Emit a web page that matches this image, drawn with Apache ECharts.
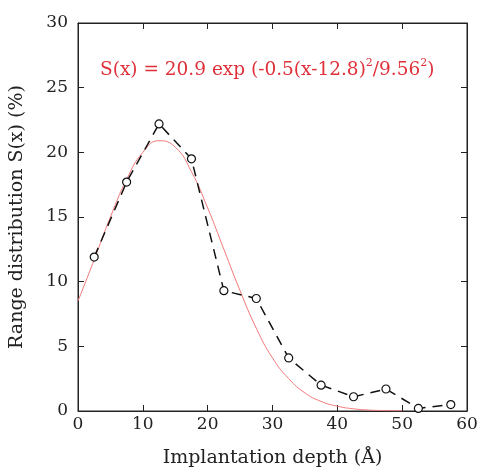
<!DOCTYPE html>
<html><head><meta charset="utf-8">
<script src="https://cdn.jsdelivr.net/npm/echarts@6/dist/echarts.min.js"></script>
<style>html,body{margin:0;padding:0;background:#fff}#c{width:478px;height:468px}</style>
</head><body><div id="c"></div>
<script>
// Measured data (depth in Å, range distribution in %)
const depth = [2.5, 7.5, 12.5, 17.5, 22.5, 27.5, 32.5, 37.5, 42.5, 47.5, 52.5, 57.5];
const rangeDist = [11.9, 17.7, 22.2, 19.5, 9.3, 8.7, 4.1, 2.0, 1.1, 1.7, 0.2, 0.5];
// Fitted curve
const fitX = [0, 2.5, 5, 7.5, 10, 12.5, 15, 17.5, 20, 22.5, 25, 27.5, 30, 32.5, 35, 37.5, 40, 42.5, 45, 47.5, 50];
const fitY = [8.5, 11.7, 15.0, 17.9, 20.0, 20.9, 20.4, 18.5, 15.7, 12.5, 9.3, 6.4, 4.1, 2.5, 1.4, 0.74, 0.37, 0.17, 0.07, 0.03, 0.01];
const xTicks = [0, 10, 20, 30, 40, 50, 60];
const yTicks = [0, 5, 10, 15, 20, 25, 30];

const FONT = 'DejaVu Serif';
const chart = echarts.init(document.getElementById('c'));
const axLine = {show: true, onZero: false, lineStyle: {color: '#222', width: 1}};
const tick = {show: true, inside: true, length: 6, lineStyle: {color: '#222', width: 1}};
chart.setOption({
  animation: false,
  backgroundColor: '#fff',
  grid: {left: 78, right: 11, top: 23, bottom: 57, containLabel: false, outerBoundsMode: 'none',
         show: true, borderColor: '#222', borderWidth: 1, backgroundColor: 'transparent'},
  xAxis: [{
    type: 'value', min: 0, max: 60, interval: 10,
    axisLine: axLine, axisTick: tick, splitLine: {show: false},
    axisLabel: {fontFamily: FONT, fontSize: 17, color: '#222', margin: 5},
    name: 'Implantation depth (Å)', nameLocation: 'middle', nameGap: 38,
    nameTextStyle: {fontFamily: FONT, fontSize: 19, color: '#222'}
  }, {
    type: 'value', min: 0, max: 60, interval: 10, position: 'top', show: true,
    axisLine: axLine, axisTick: tick, axisLabel: {show: false}, splitLine: {show: false}
  }],
  yAxis: [{
    type: 'value', min: 0, max: 30, interval: 5,
    axisLine: axLine, axisTick: tick, splitLine: {show: false},
    axisLabel: {fontFamily: FONT, fontSize: 17, color: '#222', margin: 10},
    name: 'Range distribution S(x) (%)', nameLocation: 'middle', nameGap: 51, nameRotate: 90,
    nameTextStyle: {fontFamily: FONT, fontSize: 19, color: '#222'}
  }, {
    type: 'value', min: 0, max: 30, interval: 5, position: 'right', show: true,
    axisLine: axLine, axisTick: tick, axisLabel: {show: false}, splitLine: {show: false}
  }],
  graphic: [{
    type: 'text', left: 100, top: 58,
    style: {
      rich: {
        t: {fontFamily: FONT, fontSize: 18.5, fill: '#e0303a', lineHeight: 24},
        s: {fontFamily: FONT, fontSize: 11, fill: '#e0303a', verticalAlign: 'top', lineHeight: 24}
      },
      text: '{t|S(x) = 20.9 exp (-0.5(x-12.8)}{s|2}{t|/9.56}{s|2}{t|)}'
    }
  }],
  series: [{
    type: 'line', smooth: true, showSymbol: false,
    data: fitX.map((x, i) => [x, fitY[i]]),
    lineStyle: {color: '#f07878', width: 1}, z: 2
  }, {
    type: 'line',
    data: depth.map((x, i) => [x, rangeDist[i]]),
    symbol: 'circle', symbolSize: 8,
    itemStyle: {color: '#fff', borderColor: '#111', borderWidth: 1.2},
    lineStyle: {color: '#111', width: 1.5, type: [10, 7]}, z: 3
  }]
});
</script></body></html>
